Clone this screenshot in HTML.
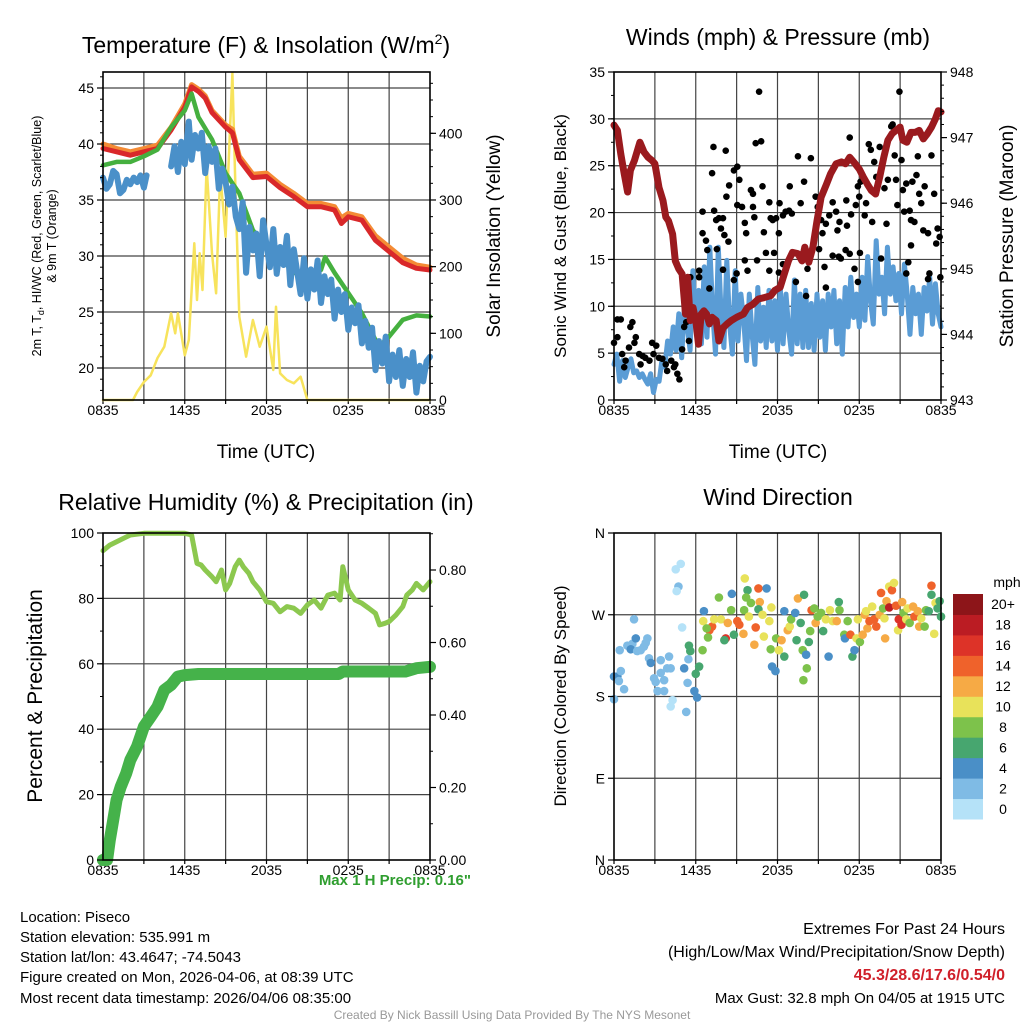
<!DOCTYPE html>
<html><head><meta charset="utf-8"><title>Mesonet station meteogram</title>
<style>
html,body{margin:0;padding:0;background:#fff;}
svg{display:block;font-family:"Liberation Sans",Arial,sans-serif;}
</style></head>
<body>
<svg id="chart" width="1024" height="1024" viewBox="0 0 1024 1024" xmlns="http://www.w3.org/2000/svg">
<rect width="1024" height="1024" fill="#fff"/>
<text x="266" y="53" font-size="23" text-anchor="middle">Temperature (F) &amp; Insolation (W/m<tspan dy="-9" font-size="14">2</tspan><tspan dy="9">)</tspan></text>
<text x="778" y="45" font-size="23" text-anchor="middle">Winds (mph) &amp; Pressure (mb)</text>
<text x="266" y="510" font-size="23" text-anchor="middle">Relative Humidity (%) &amp; Precipitation (in)</text>
<text x="778" y="505" font-size="23" text-anchor="middle">Wind Direction</text>

<text x="266" y="458" font-size="19" text-anchor="middle">Time (UTC)</text>
<text x="778" y="458" font-size="19" text-anchor="middle">Time (UTC)</text>

<text transform="translate(41,236) rotate(-90)" font-size="12.5" text-anchor="middle">2m T, T<tspan dy="3" font-size="9">d</tspan><tspan dy="-3">, HI/WC (Red, Green, Scarlet/Blue)</tspan></text>
<text transform="translate(56,236) rotate(-90)" font-size="12.5" text-anchor="middle">&amp; 9m T (Orange)</text>
<text transform="translate(500,236) rotate(-90)" font-size="19" text-anchor="middle">Solar Insolation (Yellow)</text>
<text transform="translate(566,236) rotate(-90)" font-size="17" text-anchor="middle">Sonic Wind &amp; Gust (Blue, Black)</text>
<text transform="translate(1013,236) rotate(-90)" font-size="19" text-anchor="middle">Station Pressure (Maroon)</text>
<text transform="translate(42,696) rotate(-90)" font-size="21" text-anchor="middle">Percent &amp; Precipitation</text>
<text transform="translate(566,696) rotate(-90)" font-size="17" text-anchor="middle">Direction (Colored By Speed)</text>

<text x="471" y="885" font-size="15" font-weight="bold" fill="#2f9e2f" text-anchor="end">Max 1 H Precip: 0.16"</text>

<g font-size="15">
<text x="20" y="922">Location: Piseco</text>
<text x="20" y="942">Station elevation: 535.991 m</text>
<text x="20" y="962">Station lat/lon: 43.4647; -74.5043</text>
<text x="20" y="982">Figure created on Mon, 2026-04-06, at 08:39 UTC</text>
<text x="20" y="1003">Most recent data timestamp: 2026/04/06 08:35:00</text>
</g>
<g font-size="16" text-anchor="end">
<text x="1005" y="934">Extremes For Past 24 Hours</text>
<text x="1005" y="957">(High/Low/Max Wind/Precipitation/Snow Depth)</text>
<text x="1005" y="980" font-weight="bold" fill="#d0202a">45.3/28.6/17.6/0.54/0</text>
<text x="1005" y="1003" font-size="15">Max Gust: 32.8 mph On 04/05 at 1915 UTC</text>
</g>
<text x="512" y="1019" font-size="12" fill="#999" text-anchor="middle">Created By Nick Bassill Using Data Provided By The NYS Mesonet</text>
<g id="layer"></g>
</svg>
<script>
// ---------- data ----------
const timeTicks = ["0835","1435","2035","0235","0835"];
// Panel 1: temperature
const tHours = [0,1,2,3,4,5,6,6.5,7,7.5,8,9,9.5,10,11,12,13,14,15,16,17,17.5,18,19,20,21,22,23,24];
const tempRed = [39.6,39.3,39.0,39.3,39.6,41.25,43.3,45.1,44.7,44.1,42.8,41.5,41.0,38.6,37.0,37.1,36.1,35.3,34.4,34.4,34.1,32.9,33.5,33.2,31.4,30.4,29.4,28.9,28.75];
const tempOrange = [40.0,39.6,39.3,39.6,39.9,41.5,43.6,45.3,44.9,44.3,43.0,41.7,41.3,38.9,37.3,37.4,36.4,35.6,34.7,34.7,34.4,33.4,33.8,33.5,31.8,30.8,29.8,29.2,29.0];
const gHours = [0,1,2,3,4,5,6,6.5,7,7.5,8,9,9.5,10,11,12,13,14,15,16,16.3,17,18,19,20,20.5,21,22,23,24];
const heatIndex = [38.1,38.4,38.4,38.9,39.5,41.5,43.0,44.5,42.4,41.4,40.4,37.4,36.5,35.6,32.3,30.8,29.9,28.5,28.3,28.75,29.9,28.5,26.7,24.9,22.5,22.2,22.8,24.3,24.7,24.6];
const tdHours = [0,0.25,0.5,0.75,1,1.25,1.5,1.75,2,2.25,2.5,2.75,3,3.2,3.6,5,5.25,5.5,5.75,6,6.3,6.5,6.75,7,7.25,7.5,7.75,8,8.25,8.5,8.75,9,9.25,9.5,9.75,10,10.25,10.5,10.75,11,11.25,11.5,11.75,12,12.25,12.5,12.75,13,13.25,13.5,13.75,14,14.25,14.5,14.75,15,15.25,15.5,15.75,16,16.25,16.5,16.75,17,17.25,17.5,17.75,18,18.25,18.5,18.75,19,19.25,19.5,19.75,20,20.25,20.5,20.75,21,21.25,21.5,21.75,22,22.25,22.5,22.75,23,23.25,23.5,23.75,24];
const dewPoint = [37.0,36.0,36.4,37.6,37.3,35.6,35.9,36.8,36.4,37.0,36.6,37.2,36.1,37.2,null,38.0,39.8,37.5,40.2,38.2,42.0,38.6,40.8,39.6,41.0,37.4,39.8,38.4,39.6,36.0,37.8,36.6,34.6,36.2,33.5,32.4,34.8,28.5,32.6,30.5,32.0,28.2,33.2,31.0,29.0,32.4,28.4,30.8,29.2,31.8,27.4,30.6,28.6,26.6,29.8,26.2,28.8,27.0,29.6,25.8,28.2,26.6,27.9,24.4,27.0,25.0,26.6,23.4,25.4,24.0,25.6,22.2,24.2,21.8,23.6,19.8,22.4,20.4,22.8,18.8,21.2,19.2,21.6,18.4,20.8,19.2,21.4,17.8,20.2,18.8,20.6,21.0];
const solHours = [0,2.2,2.5,3,3.5,4,4.5,5,5.3,5.5,6,6.3,6.7,6.9,7.1,7.3,7.6,8,8.3,8.6,9,9.3,9.5,9.7,10,10.5,11,11.5,12,12.5,12.7,13,13.5,14,14.5,15,24];
const solar = [0,0,12,27,37,63,80,130,100,130,67,90,235,150,220,165,350,220,160,340,245,395,490,330,125,65,120,80,110,45,140,40,30,25,35,0,0];
const tempTicks = [20,25,30,35,40,45];
const solarTicks = [0,100,200,300,400];
// Panel 2: winds & pressure
const presHours = [0,0.25,0.5,0.75,1,1.2,1.5,1.9,2.2,2.5,2.8,3,3.3,3.6,3.8,4,4.3,4.5,4.75,5,5.25,5.4,5.6,5.8,6,6.2,6.4,6.6,6.8,7,7.2,7.5,7.7,8,8.3,8.6,9,9.5,9.8,10.2,10.6,11,11.5,11.8,12.2,12.5,12.8,13.1,13.5,13.8,14,14.3,14.6,14.9,15.2,15.6,15.9,16.3,16.7,17,17.3,17.7,18,18.3,18.6,18.9,19.2,19.5,19.8,20.1,20.4,20.7,21,21.2,21.5,21.8,22.1,22.4,22.7,23,23.3,23.6,23.8,24];
const pressure = [947.19,947.11,946.75,946.45,946.17,946.50,946.65,946.93,946.78,946.70,946.65,946.60,946.24,946.04,945.79,945.73,945.53,945.12,945.00,944.92,944.31,944.87,944.21,944.41,944.21,943.85,944.31,944.36,944.31,944.16,944.26,944.21,943.90,944.10,944.16,944.21,944.26,944.31,944.41,944.46,944.54,944.56,944.59,944.67,944.72,944.92,945.12,945.25,945.23,945.12,945.33,945.10,945.33,945.73,946.09,946.29,946.45,946.60,946.63,946.60,946.70,946.60,946.52,946.40,946.29,946.19,946.14,946.40,946.70,946.96,947.06,947.11,947.16,946.96,946.93,947.08,947.08,947.11,946.98,947.06,947.16,947.29,947.41,947.39];
const windMph = [3.8,4.9,2.0,4.2,2.4,3.5,4.4,2.9,3.1,2.4,2.8,2.2,1.7,2.8,0.8,2.2,2.0,4.2,3.5,6.3,4.9,7.8,5.3,9.2,4.5,10.3,7.8,5.3,13.8,7.8,11.7,6.0,14.2,6.7,16.3,9.5,4.9,16.3,9.2,5.6,14.9,8.1,4.9,13.8,6.3,11.3,8.5,4.2,11.3,7.0,3.8,12.0,6.3,9.9,5.6,11.7,6.3,10.6,5.3,12.0,6.0,11.3,7.4,4.9,12.8,6.0,11.3,5.6,11.7,5.6,10.3,5.3,11.3,6.7,10.6,5.3,11.3,7.8,11.7,6.0,10.6,4.9,12.0,7.8,13.1,8.8,11.3,7.8,13.1,8.5,15.3,10.6,8.1,17.0,11.3,13.1,9.2,16.3,11.3,14.2,10.6,13.5,9.2,14.5,11.3,7.0,12.0,9.2,11.3,7.0,12.0,9.5,13.1,8.1,12.4,9.2,7.8];
const gustHours = [0,0.25,0.25,0.5,1.35,1.2,1.6,1.5,1.1,0.6,0.85,0.75,1.85,2.1,1.95,2.3,2.6,2.8,3.1,2.9,3.3,3.55,3.8,3.9,4.2,4.4,4.65,4.8,4.5,5.0,5.15,5.3,5.5,
5.6,6.25,6.5,6.5,6.75,6.85,7.2,7.3,7.35,7.5,7.7,7.85,8.0,8.1,8.2,8.25,8.4,8.45,8.8,9.05,9.2,9.05,9.4,9.6,9.7,10.05,10.2,10.2,10.3,10.4,10.65,10.8,10.9,11.0,11.4,11.5,11.65,11.9,12.1,12.15,12.4,12.6,12.85,12.9,13.05,13.5,13.7,13.95,14.45,14.8,14.95,15.2,15.3,15.55,15.8,16.05,16.3,16.4,16.55,17.05,17.1,17.3,17.4,17.75,17.9,18.0,18.1,18.4,18.5,18.7,18.85,18.95,19.1,19.25,19.5,19.85,20.0,20.1,20.35,20.45,20.6,20.7,20.8,20.95,21.1,21.2,21.3,21.45,21.7,21.8,21.9,22.05,22.2,22.3,22.4,22.55,22.7,22.8,23.05,23.3,23.5,23.65,23.75,23.9,23.95,
6.25,7.0,7.55,8.0,8.8,9.0,9.6,9.8,10.5,11.15,11.4,12.1,11.75,12.4,13.35,14.1,14.2,15.05,15.45,15.55,16.05,16.5,16.65,17.0,17.3,17.65,17.9,18.05,19.6,21.45,21.6,21.8,23.05,23.15];
const gustMph = [6.1,6.7,8.6,8.6,8.3,7.8,6.7,6.1,5.6,4.9,4.2,3.5,4.9,4.7,3.8,4.5,4.2,6.1,5.8,4.9,4.5,4.4,3.8,3.1,4.2,3.5,2.8,2.2,3.8,5.4,7.8,8.3,6.3,
13.1,13.1,20.1,17.8,17.0,16.0,24.2,27.0,20.2,19.2,19.4,18.3,19.4,17.6,26.6,21.7,16.9,22.9,24.5,24.9,23.5,20.8,20.6,18.9,17.8,22.4,22.0,20.6,19.5,27.4,32.9,27.6,22.8,17.9,21.1,19.4,19.2,19.4,17.8,21.0,19.7,20.1,20.2,22.8,19.9,26.0,21.0,23.3,25.8,21.7,20.6,19.2,17.8,18.8,19.7,21.1,20.1,18.1,19.0,21.3,18.6,28.0,19.8,20.8,22.8,21.7,23.3,19.7,21.0,27.3,26.7,19.0,25.4,23.8,27.0,22.6,18.8,23.5,29.2,29.4,26.1,23.5,20.8,32.9,25.6,22.4,20.1,23.1,20.2,19.2,23.3,19.0,24.0,26.0,22.0,21.0,18.1,22.8,17.8,26.1,22.0,16.7,18.3,17.4,13.1,
13.8,11.9,16.1,13.9,12.8,13.5,14.9,13.8,14.9,15.7,13.8,13.6,15.7,14.5,12.6,11.1,14.0,16.1,14.2,12.0,15.4,15.3,15.1,16.0,15.6,14.0,12.6,15.7,15.1,13.5,14.7,16.5,12.9,13.5];
const windTicks = [0,5,10,15,20,25,30,35];
const presTicks = [943,944,945,946,947,948];
// Panel 3: RH & precip
const rhHours = [0,0.5,1,2,3,4,5,6,6.5,6.9,7.2,7.5,8,8.3,8.7,9,9.3,9.7,10,10.3,10.7,11,11.5,12,12.5,13,13.5,14,14.5,15,15.5,16,16.5,17,17.4,17.6,18,18.5,19,19.5,20,20.3,20.7,21,21.5,22,22.3,22.7,23,23.5,24];
const rh = [94.6,96.3,97.3,99.4,99.9,99.9,99.9,99.9,99.4,90.7,90.2,88.7,86.6,85.1,88.7,82.6,84.6,89.7,91.7,89.7,87.7,85.1,82.6,79.0,78.5,75.9,77.5,77.0,75.4,78.0,79.5,77.0,81.0,81.6,79.5,89.7,82.6,79.5,78.5,77.0,75.4,71.9,72.4,72.9,74.9,77.5,81.0,82.6,84.6,82.6,85.1];
const prHours = [0,0.3,0.5,0.75,1,1.3,1.7,2,2.5,3,3.5,4,4.5,5,5.5,6,7,17.3,17.6,22.2,23,24];
const precip = [0,0,0.055,0.110,0.166,0.202,0.239,0.276,0.313,0.368,0.395,0.423,0.469,0.483,0.506,0.510,0.513,0.513,0.520,0.520,0.529,0.533];
const rhTicks = [0,20,40,60,80,100];
const prTicks = ["0.00","0.20","0.40","0.60","0.80"];
// Panel 4: wind direction
const dirHours = [0,0.25,0.36,0,0.5,0.74,0.42,0.98,1.35,1.47,1.6,1.23,1.7,1.96,2.2,2.45,2.33,2.57,2.7,2.94,3.06,3.2,3.43,3.43,3.68,3.68,4.04,3.9,4.16,4.3,4.16,4.53,4.9,4.73,4.6,5.0,5.3,5.4,5.15,5.46,5.9,6.1,6.0,6.25,5.5,5.6,6.5,
6.6,6.55,7.0,7.2,7.35,6.8,6.9,7.7,7.85,8.2,8.1,8.35,8.6,8.65,8.8,9.05,9.2,9.5,9.55,9.6,9.8,9.7,10.05,9.9,10.3,10.4,10.6,10.7,10.6,10.9,11.0,11.2,11.4,11.5,11.55,11.6,11.85,11.9,12.1,12.3,12.5,12.5,12.75,12.9,13.0,13.3,13.4,13.5,13.7,13.85,13.95,14.1,14.15,13.9,14.3,14.4,14.5,14.7,14.8,14.95,15.2,15.35,15.55,15.75,15.85,16.05,16.35,16.5,16.55,16.9,16.95,17.15,17.35,17.5,17.65,17.8,17.9,18.05,18.25,18.4,18.5,18.6,18.75,18.95,19.1,19.25,19.5,19.6,19.75,19.85,19.9,20.0,20.2,20.2,20.4,20.55,20.7,20.85,20.9,21.1,21.15,21.25,21.45,21.55,21.7,21.95,22.05,22.3,22.4,22.55,22.8,22.9,23.1,23.3,23.3,23.5,23.6,23.75,23.9,24.0];
const dirDeg = [202,202,197,177,208,188,231,236,238,265,244,232,230,231,235,244,239,222,217,200,196,186,220,206,186,198,224,211,211,176,169,320,326,301,296,256,163,195,211,221,186,179,205,213,236,230,231,
274,263,253,257,265,255,245,289,265,244,242,261,275,293,248,263,259,249,275,310,297,289,283,268,237,256,299,284,276,270,246,299,263,232,278,213,208,244,231,242,224,274,253,257,265,272,242,288,261,231,292,226,211,198,240,252,275,277,261,268,272,252,265,224,275,263,263,284,275,248,244,263,248,224,231,244,265,240,248,270,274,255,263,279,265,257,270,294,277,266,244,285,278,301,297,305,280,253,265,259,284,272,265,277,261,279,268,274,257,266,257,275,274,302,292,249,283,277,285,268];
const dirSpeed = [5,5,3,3,3,3,3,3,3,3,5,5,3,3,3,3,3,3,5,3,3,3,3,3,3,3,3,3,3,1,1,1,1,3,1,1,3,3,5,3,5,5,7,7,7,7,9,
5,11,15,15,11,9,9,9,11,17,7,13,9,5,7,15,15,13,9,11,7,9,9,11,13,15,15,13,7,11,11,5,11,9,11,5,5,9,11,13,7,5,13,11,9,5,7,13,7,9,7,5,9,9,7,9,15,9,13,9,9,7,11,5,11,11,13,7,9,9,5,9,15,7,5,11,11,9,13,13,11,13,15,11,15,15,13,15,9,11,13,13,19,11,15,11,15,11,17,17,13,9,11,11,9,13,15,13,13,11,9,9,7,15,7,11,11,7,7,7];
const dirTicks = ["N","E","S","W","N"];
const speedLabels = ["0","2","4","6","8","10","12","14","16","18","20+"];
const speedColors = ["#b5e2f8","#7fbbe5","#4a8fc7","#47a66f","#7dc24b","#e8e25a","#f6aa45","#ef622b","#dd3328","#bb1c23","#8d1519"];

// ---------- drawing ----------
const NS="http://www.w3.org/2000/svg";
const layer=document.getElementById('layer');
function mk(tag,attrs,parent){const e=document.createElementNS(NS,tag);for(const k in attrs)e.setAttribute(k,attrs[k]);(parent||layer).appendChild(e);return e;}
const P1={x0:103,x1:430,y0:72,y1:400}, P2={x0:614,x1:941,y0:72,y1:400}, P3={x0:103,x1:430,y0:533,y1:860}, P4={x0:614,x1:941,y0:533,y1:860};
function xh(p,h){return p.x0+(p.x1-p.x0)*h/24;}
const yT=v=>88+(45-v)*11.2, yS=w=>400-w*0.6667;
const yW=m=>400-m*(328/35), yP=mb=>400-(mb-943)*(328/5);
const yR=r=>860-r*3.27, yPr=i=>860-i*362.5;
const yD=d=>860-d*(327/360);

function frame(p,name,hLines){
  const g=mk('g',{});
  
  
  for(let k=1;k<8;k++){const x=xh(p,k*3);mk('line',{x1:x,x2:x,y1:p.y0,y2:p.y1,stroke:'#444','stroke-width':1.2},g);}
  hLines.forEach(y=>mk('line',{x1:p.x0,x2:p.x1,y1:y,y2:y,stroke:'#444','stroke-width':1.2},g));
  for(let k=0;k<=8;k++){const x=xh(p,k*3);mk('line',{x1:x,x2:x,y1:p.y1,y2:p.y1+4,stroke:'#000','stroke-width':1.2},g);}
  timeTicks.forEach((t,i)=>{const tx=mk('text',{x:xh(p,i*6),y:p.y1+15,'font-size':14,'text-anchor':'middle'},g);tx.textContent=t;
    
    });
}
function box(p,name){const r=mk('rect',{x:p.x0,y:p.y0,width:p.x1-p.x0,height:p.y1-p.y0,fill:'none',stroke:'#000','stroke-width':1.6});
  
  }
function leftAxis(p,vals,fy,labels,name,minor){
  const g=mk('g',{});
  
  
  (minor||[]).forEach(v=>{const y=fy(v);mk('line',{x1:p.x0-3,x2:p.x0,y1:y,y2:y,stroke:'#000'},g);});
  vals.forEach((v,i)=>{const y=fy(v);mk('line',{x1:p.x0-6,x2:p.x0,y1:y,y2:y,stroke:'#000','stroke-width':1.2},g);
    const t=mk('text',{x:p.x0-9,y:y+5,'font-size':14,'text-anchor':'end'},g);t.textContent=labels?labels[i]:v;});
}
function rightAxis(p,vals,fy,labels,name,minor){
  const g=mk('g',{});
  
  
  (minor||[]).forEach(v=>{const y=fy(v);mk('line',{x1:p.x1,x2:p.x1+3,y1:y,y2:y,stroke:'#000'},g);});
  vals.forEach((v,i)=>{const y=fy(v);mk('line',{x1:p.x1,x2:p.x1+6,y1:y,y2:y,stroke:'#000','stroke-width':1.2},g);
    const t=mk('text',{x:p.x1+9,y:y+5,'font-size':14,'text-anchor':'start'},g);t.textContent=labels?labels[i]:v;});
}
function line(p,hs,vs,fy,color,w,name){
  let d='',pen=false;
  hs.forEach((h,i)=>{const v=vs[i];if(v===null||v===undefined){pen=false;return;}
    d+=(pen?'L':'M')+xh(p,h).toFixed(1)+','+fy(v).toFixed(1);pen=true;});
  const e=mk('path',{d:d,fill:'none',stroke:color,'stroke-width':w,'stroke-linejoin':'round','stroke-linecap':'round'});
  
  
  return e;
}
function rng(a,b,s){const r=[];for(let v=a;v<=b+1e-9;v+=s)r.push(+v.toFixed(3));return r;}

// Panel 1
frame(P1,'temp',tempTicks.map(yT));
line(P1,solHours,solar,yS,'#f7e35c',2.5,'solar-insolation-line');
line(P1,tHours,tempOrange,yT,'#f48b35',5,'temp-9m-line');
line(P1,tHours,tempRed,yT,'#d9282a',5,'temp-2m-line');
line(P1,gHours,heatIndex,yT,'#45b03f',4.5,'heat-index-line');
line(P1,tdHours,dewPoint,yT,'#4a90c9',6,'dewpoint-line');
box(P1,'temp');
leftAxis(P1,tempTicks,yT,null,'temp-y-axis',rng(18,46,1));
rightAxis(P1,solarTicks,yS,null,'solar-y-axis',rng(0,480,25));

// Panel 2
frame(P2,'wind',windTicks.slice(1,7).map(yW));
line(P2,windMph.map((v,i)=>i*24/(windMph.length-1)),windMph,yW,'#5a9cd5',5,'sonic-wind-line');
const gg=mk('g',{});


gustHours.forEach((h,i)=>{const c=mk('circle',{cx:xh(P2,h),cy:yW(gustMph[i]),r:3.3,fill:'#000'},gg);
  
  });
line(P2,presHours,pressure,yP,'#9a1a1e',7,'pressure-line');
box(P2,'wind');
leftAxis(P2,windTicks,yW,null,'wind-y-axis',rng(0,35,2.5));
rightAxis(P2,presTicks,yP,null,'pressure-y-axis',rng(943,948,0.2));

// Panel 3
frame(P3,'rh',rhTicks.slice(1,5).map(yR));
line(P3,rhHours,rh,yR,'#8cc84f',5,'rh-line');
line(P3,prHours,precip,yPr,'#45b24a',12,'precip-line');
const d0=mk('circle',{cx:xh(P3,0),cy:yPr(precip[0]),r:6,fill:'#45b24a'});


box(P3,'rh');
leftAxis(P3,rhTicks,yR,null,'rh-y-axis',rng(0,100,10));
rightAxis(P3,prTicks.map(Number),yPr,prTicks,'precip-y-axis',rng(0,0.9,0.1));

// Panel 4
frame(P4,'dir',[90,180,270].map(yD));
const dg=mk('g',{});


dirHours.forEach((h,i)=>{const s=dirSpeed[i];const bin=Math.min(10,Math.floor(s/2));
  const c=mk('circle',{cx:xh(P4,h),cy:yD(dirDeg[i]),r:4.3,fill:speedColors[bin]},dg);
  
  });
box(P4,'dir');
leftAxis(P4,[0,90,180,270,360],yD,dirTicks,'dir-y-axis',[]);
const cb=mk('g',{});


const cbTop=594,cbH=225/11;
speedLabels.forEach((lab,i)=>{const k=10-i;const y=cbTop+k*cbH;
  const r=mk('rect',{x:953,y:y,width:30,height:cbH+0.5,fill:speedColors[i]},cb);
  
  
  const t=mk('text',{x:1003,y:y+cbH/2+5,'font-size':14,'text-anchor':'middle'},cb);t.textContent=lab;});
const mt=mk('text',{x:1007,y:587,'font-size':14,'text-anchor':'middle'},cb);mt.textContent='mph';
</script>
</body></html>
